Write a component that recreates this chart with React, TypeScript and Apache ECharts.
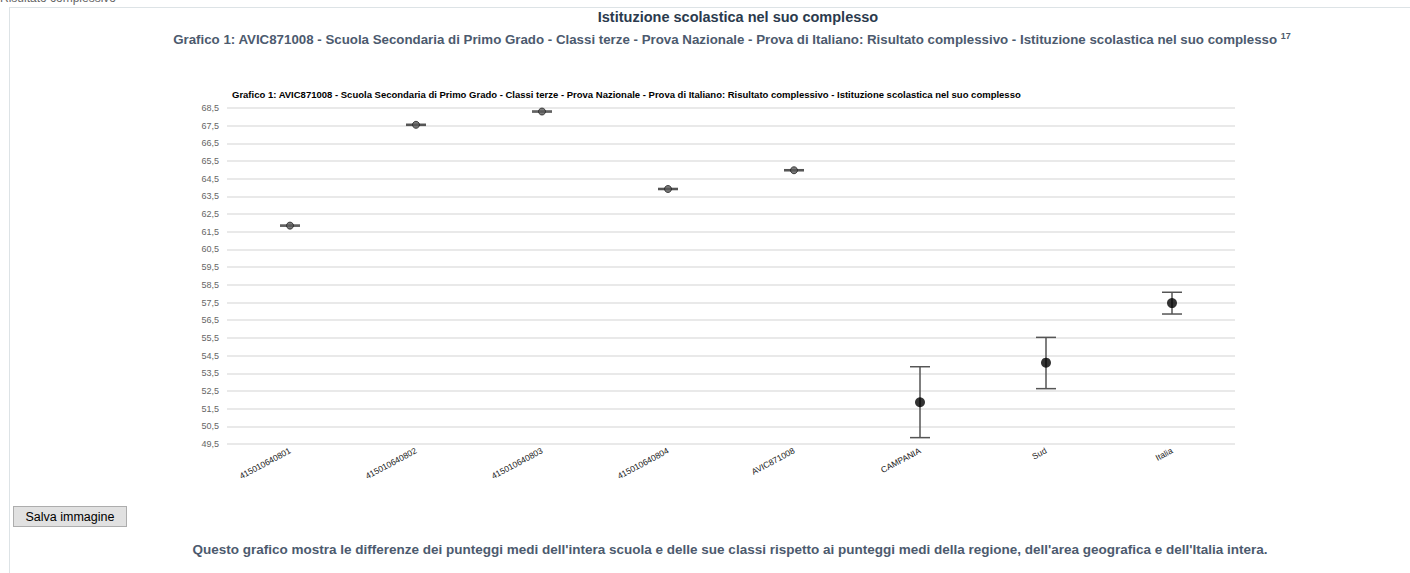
import React, { useEffect, useRef } from "react";
import * as echarts from "echarts";

const categories = [
  "415010640801",
  "415010640802",
  "415010640803",
  "415010640804",
  "AVIC871008",
  "CAMPANIA",
  "Sud",
  "Italia",
];
const means = [61.85, 67.55, 68.3, 63.92, 64.98, 51.86, 54.1, 57.47];
const lowers = [61.82, 67.52, 68.27, 63.89, 64.95, 49.86, 52.63, 56.85];
const uppers = [61.88, 67.58, 68.33, 63.95, 65.01, 53.87, 55.53, 58.08];
const isSchoolLevel = [true, true, true, true, true, false, false, false];

const AXIS_MIN = 49.5;
const AXIS_MAX = 68.5;

const chartTitle =
  "Grafico 1: AVIC871008 - Scuola Secondaria di Primo Grado - Classi terze - Prova Nazionale - Prova di Italiano: Risultato complessivo - Istituzione scolastica nel suo complesso";
const pageTitle = "Istituzione scolastica nel suo complesso";
const noteText =
  "Questo grafico mostra le differenze dei punteggi medi dell'intera scuola e delle sue classi rispetto ai punteggi medi della regione, dell'area geografica e dell'Italia intera.";

const FONT = "Arial, 'Liberation Sans', Helvetica, sans-serif";

export default function App() {
  const ref = useRef<HTMLDivElement>(null);

  useEffect(() => {
    if (!ref.current) return;
    const chart = echarts.init(ref.current, undefined, { renderer: "svg" });
    const off = (v: number) => v - AXIS_MIN;
    const errData = categories.map((_, i) => [i, off(lowers[i]), off(uppers[i])]);
    const dotData = categories.map((_, i) => ({
      value: [i, off(means[i])],
      symbolSize: isSchoolLevel[i] ? 7 : 10,
      itemStyle: isSchoolLevel[i]
        ? { color: "#5a5a5a", borderColor: "#222", borderWidth: 1 }
        : { color: "#000", borderWidth: 0 },
    }));
    chart.setOption({
      animation: false,
      textStyle: { fontFamily: FONT },
      title: {
        text: chartTitle,
        left: 227,
        top: 84,
        textStyle: { fontSize: 9.5, fontWeight: "bold", color: "#000", fontFamily: FONT },
      },
      grid: { left: 227, right: 175, top: 108, bottom: 129, containLabel: false },
      xAxis: {
        type: "category",
        data: categories,
        boundaryGap: true,
        axisLine: { show: false },
        axisTick: { show: false },
        axisLabel: {
          rotate: 28,
          interval: 0,
          fontSize: 8.5,
          color: "#222",
          margin: 6,
          fontFamily: FONT,
        },
      },
      yAxis: {
        type: "value",
        min: 0,
        max: AXIS_MAX - AXIS_MIN,
        interval: 1,
        axisLine: { show: false },
        axisTick: { show: false },
        splitLine: { lineStyle: { color: "#e2e2e2", width: 1.5 } },
        axisLabel: {
          fontSize: 9,
          color: "#666",
          margin: 8,
          fontFamily: FONT,
          formatter: (v: number) => (v + AXIS_MIN).toFixed(1).replace(".", ","),
        },
      },
      series: [
        {
          type: "custom",
          data: errData,
          encode: { x: 0, y: [1, 2] },
          renderItem: (params: any, api: any) => {
            const x = api.value(0);
            const lo = api.coord([x, api.value(1)]);
            const hi = api.coord([x, api.value(2)]);
            const half = 10;
            const style = { stroke: "#555", lineWidth: 1.5 };
            return {
              type: "group",
              children: [
                { type: "line", shape: { x1: lo[0], y1: lo[1], x2: hi[0], y2: hi[1] }, style },
                { type: "line", shape: { x1: lo[0] - half, y1: lo[1], x2: lo[0] + half, y2: lo[1] }, style },
                { type: "line", shape: { x1: hi[0] - half, y1: hi[1], x2: hi[0] + half, y2: hi[1] }, style },
              ],
            };
          },
          z: 2,
        },
        {
          type: "scatter",
          data: dotData,
          symbol: "circle",
          z: 3,
        },
      ],
    });
    return () => chart.dispose();
  }, []);

  return (
    <div
      style={{
        position: "absolute",
        left: 0,
        top: 0,
        width: 1410,
        height: 573,
        overflow: "hidden",
        fontFamily: FONT,
        background: "#fff",
      }}
    >
      <div
        style={{ position: "absolute", left: 0, top: -9, fontSize: 12, color: "#666" }}
      >
        Risultato complessivo
      </div>
      <div
        style={{
          position: "absolute",
          left: 9,
          top: 7,
          width: 1440,
          height: 600,
          borderLeft: "1px solid #dde3e6",
          borderTop: "1px solid #dde3e6",
        }}
      />
      <div ref={ref} style={{ position: "absolute", left: 0, top: 0, width: 1410, height: 573 }} />
      <div
        style={{
          position: "absolute",
          left: 0,
          width: 1476,
          top: 9,
          textAlign: "center",
          fontSize: 14.5,
          fontWeight: "bold",
          color: "#2b3a4d",
          pointerEvents: "none",
        }}
      >
        {pageTitle}
      </div>
      <div
        style={{
          position: "absolute",
          left: 0,
          width: 1464,
          top: 31,
          textAlign: "center",
          fontSize: 13.3,
          fontWeight: "bold",
          color: "#4c5a6e",
          pointerEvents: "none",
        }}
      >
        {chartTitle} <sup style={{ fontSize: 9 }}>17</sup>
      </div>
      <button
        style={{
          position: "absolute",
          left: 13,
          top: 506,
          width: 114,
          height: 21,
          fontSize: 12.5,
          fontFamily: FONT,
          background: "#e1e1e1",
          border: "1px solid #adadad",
          color: "#000",
          padding: 0,
        }}
      >
        Salva immagine
      </button>
      <div
        style={{
          position: "absolute",
          left: 0,
          width: 1460,
          top: 542,
          textAlign: "center",
          fontSize: 13.5,
          fontWeight: "bold",
          color: "#4c5a6e",
          pointerEvents: "none",
        }}
      >
        {noteText}
      </div>
    </div>
  );
}
